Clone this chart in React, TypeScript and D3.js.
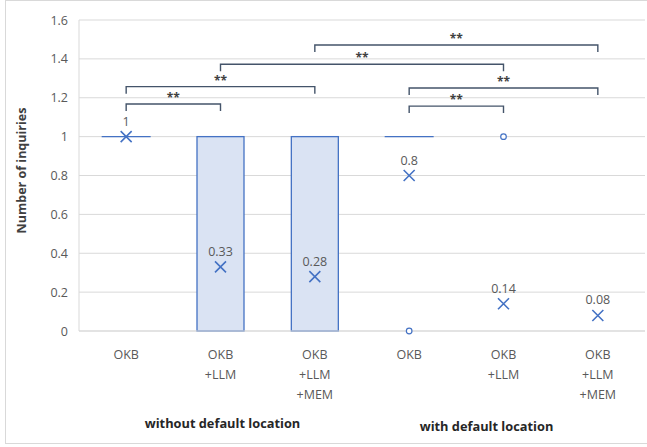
import React from "react";
import * as d3 from "d3";

const categories = ["OKB", "OKB\n+LLM", "OKB\n+LLM\n+MEM", "OKB", "OKB\n+LLM", "OKB\n+LLM\n+MEM"];
const boxQ1 = [1, 0, 0, 1, 0, 0];
const boxQ3 = [1, 1, 1, 1, 0, 0];
const means = [1, 0.33, 0.28, 0.8, 0.14, 0.08];
const meanLabels = ["1", "0.33", "0.28", "0.8", "0.14", "0.08"];
const outlierCat = [3, 4];
const outlierVal = [0, 1];
const bracketFrom = [0, 0, 1, 2, 3, 3];
const bracketTo = [1, 2, 4, 5, 5, 4];
const bracketLevel = [1.168, 1.257, 1.372, 1.471, 1.25, 1.157];
const bracketText = ["**", "**", "**", "**", "**", "**"];
const groupLabels = ["without default location", "with default location"];
const groupCenters = [1, 4];
const yTicks = [0, 0.2, 0.4, 0.6, 0.8, 1, 1.2, 1.4, 1.6];
const yTitle = "Number of inquiries";

const W = 647, H = 447;
const left = 79, right = 645, top = 20, bottom = 331;

export default function App() {
  const x = d3.scaleBand<number>().domain(d3.range(categories.length)).range([left, right]).paddingInner(0).paddingOuter(0);
  const y = d3.scaleLinear().domain([0, 1.6]).range([bottom, top]);
  const cx = (i: number) => (x(i) as number) + x.bandwidth() / 2;
  const boxW = 47;
  const blue = "#4472C4";
  const fontTick = "'Open Sans', 'Noto Sans', sans-serif";
  return (
    <svg width={W} height={H} style={{ position: "absolute", left: 0, top: 0, background: "#fff" }}>
      <rect x={5.5} y={0.5} width={660} height={443} fill="#fff" stroke="#d9d9d9" />
      {yTicks.map((t) => (
        <line key={t} x1={left} x2={right} y1={y(t)} y2={y(t)} stroke="#d9d9d9" strokeWidth={1} />
      ))}
      <line x1={left} x2={left} y1={top} y2={bottom} stroke="#d9d9d9" />
      {yTicks.map((t) => (
        <text key={t} x={68} y={y(t) + 4.5} textAnchor="end" fontSize={12.5} fill="#595959" fontFamily={fontTick}>
          {d3.format("~g")(t)}
        </text>
      ))}
      <text transform={`translate(26,${(top + bottom) / 2 - 5}) rotate(-90)`} textAnchor="middle" fontSize={12.5} fontWeight="bold" fill="#404040" fontFamily={fontTick}>
        {yTitle}
      </text>
      {categories.map((c, i) => {
        const h = y(boxQ1[i]) - y(boxQ3[i]);
        if (h <= 0) {
          if (boxQ3[i] === 0) return null;
          return <line key={i} x1={cx(i) - boxW / 2 - 1} x2={cx(i) + boxW / 2 + 1} y1={y(boxQ3[i])} y2={y(boxQ3[i])} stroke={blue} strokeWidth={1.4} />;
        }
        return (
          <rect key={i} x={cx(i) - boxW / 2} y={y(boxQ3[i])} width={boxW} height={h}
            fill="#DAE3F3" stroke={blue} strokeWidth={1.3} />
        );
      })}
      <line x1={left} x2={right} y1={bottom} y2={bottom} stroke="#d9d9d9" strokeWidth={1.2} />
      {outlierCat.map((c, k) => (
        <circle key={k} cx={cx(c)} cy={y(outlierVal[k])} r={2.8} fill="#fff" stroke={blue} strokeWidth={1.2} />
      ))}
      {means.map((m, i) => {
        const px = cx(i), py = y(m), s = 5.5;
        return (
          <g key={i}>
            <path d={`M${px - s},${py - s}L${px + s},${py + s}M${px - s},${py + s}L${px + s},${py - s}`} stroke={blue} strokeWidth={1.6} />
            <text x={px} y={py - 11} textAnchor="middle" fontSize={12.5} fill="#595959" fontFamily={fontTick}>{meanLabels[i]}</text>
          </g>
        );
      })}
      {bracketFrom.map((f, k) => {
        const x1 = cx(f), x2 = cx(bracketTo[k]), by = y(bracketLevel[k]);
        return (
          <g key={k}>
            <path d={`M${x1},${by + 7}V${by}H${x2}V${by + 7}`} fill="none" stroke="#44546A" strokeWidth={1.4} />
            <text x={(x1 + x2) / 2} y={by - 2} textAnchor="middle" fontSize={12} fontWeight="bold" fill="#404040" fontFamily={fontTick}>{bracketText[k]}</text>
          </g>
        );
      })}
      {categories.map((c, i) => (
        <text key={i} textAnchor="middle" fontSize={12.5} fill="#595959" fontFamily={fontTick}>
          {c.split("\n").map((ln, j) => (
            <tspan key={j} x={cx(i)} y={359 + j * 20}>{ln}</tspan>
          ))}
        </text>
      ))}
      {groupLabels.map((g, k) => (
        <text key={k} x={cx(groupCenters[k]) + (k === 0 ? 2 : -17)} y={k === 0 ? 428 : 431} textAnchor="middle" fontSize={12.8} fontWeight="bold" fill="#262626" fontFamily={fontTick}>{g}</text>
      ))}
    </svg>
  );
}
